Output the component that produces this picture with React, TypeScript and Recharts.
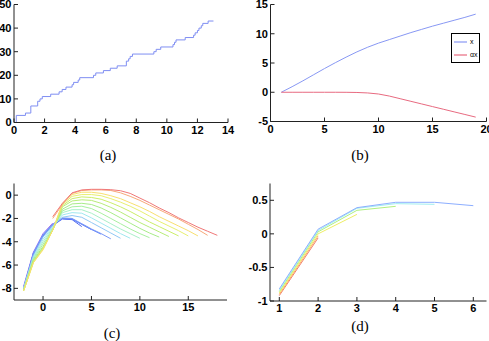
import React from "react"
import { Legend, Line, LineChart, XAxis, YAxis } from "recharts"

// (a) counting process: jump times and counts
const aTimes = [0, 0.15, 0.75, 1.1, 1.55, 1.7, 1.85, 2.4, 2.95, 3.15, 3.4, 3.8, 3.9, 4.2, 4.3, 5.2, 5.35, 5.85, 6.3, 6.75, 7.35, 7.5, 7.6, 7.75, 9.15, 9.3, 9.6, 10.4, 10.5, 10.6, 11.2, 11.75, 11.85, 12.0, 12.1, 12.25, 12.35, 12.7, 13.05]
const aCounts = [0, 3, 4, 7, 9, 10, 11, 12, 13, 14, 15, 16, 17, 18, 19, 20, 21, 22, 23, 24, 26, 27, 28, 29, 30, 31, 32, 33, 34, 35, 36, 37, 38, 39, 40, 41, 42, 43, 43]
const aXTicks = [0, 2, 4, 6, 8, 10, 12, 14]
const aYTicks = [0, 10, 20, 30, 40, 50]

// (b) two series over iterations
const bX = [1, 2, 3, 4, 5, 6, 7, 8, 9, 10, 11, 12, 13, 14, 15, 16, 17, 18, 19]
const bXSeries = [0, 0.95, 1.95, 3.0, 4.05, 5.05, 6.0, 6.9, 7.7, 8.4, 9.0, 9.6, 10.2, 10.75, 11.3, 11.8, 12.3, 12.8, 13.35]
const bAlpha = [0, 0, 0, 0, 0, 0, -0.01, -0.04, -0.12, -0.3, -0.65, -1.1, -1.55, -2.0, -2.45, -2.9, -3.35, -3.8, -4.25]
const bXTicks = [0, 5, 10, 15, 20]
const bYTicks = [-5, 0, 5, 10, 15]

// (c) family of curves, each starts at `from` on an integer grid
const cX = [-2, -1, 0, 1, 2, 3, 4, 5, 6, 7, 8, 9, 10, 11, 12, 13, 14, 15, 16, 17, 18]
const cCurves = [
    { name: "c1", from: -2, y: [-7.8, -4.9, -3.3, -2.4] },
    { name: "c4", from: -2, y: [-8.1, -5.1, -3.5, -2.6, -2.05, -2.1, -2.7] },
    { name: "c5", from: -2, y: [-8.0, -5.0, -3.45, -2.55, -2.0, -2.05, -2.5, -2.95] },
    { name: "c6", from: -2, y: [-8.0, -5.0, -3.4, -2.5, -2.0, -2.05, -2.5, -2.95, -3.35] },
    { name: "c7", from: -2, y: [-7.9, -5.0, -3.4, -2.5, -1.95, -2.0, -2.45, -2.9, -3.3, -3.75] },
    { name: "c8", from: -2, y: [-8.0, -5.2, -3.6, -2.6, -1.9, -1.75, -1.9, -2.35, -2.8, -3.25, -3.7] },
    { name: "c9", from: -2, y: [-8.0, -5.3, -3.8, -2.7, -1.7, -1.5, -1.55, -1.95, -2.4, -2.85, -3.3, -3.7] },
    { name: "c10", from: -2, y: [-8.1, -5.4, -4.0, -2.8, -1.5, -1.25, -1.25, -1.55, -2.0, -2.45, -2.9, -3.3, -3.7] },
    { name: "c11", from: -2, y: [-8.1, -5.5, -4.2, -2.9, -1.35, -1.0, -0.95, -1.15, -1.55, -2.0, -2.45, -2.9, -3.3, -3.65] },
    { name: "c12", from: -2, y: [-8.1, -5.6, -4.4, -3.0, -1.2, -0.75, -0.7, -0.8, -1.1, -1.5, -1.95, -2.4, -2.85, -3.25, -3.6] },
    { name: "c13", from: -2, y: [-8.2, -5.7, -4.5, -3.0, -1.0, -0.5, -0.4, -0.45, -0.7, -1.05, -1.45, -1.9, -2.35, -2.75, -3.15, -3.55] },
    { name: "c14", from: -2, y: [-8.2, -5.7, -4.6, -3.0, -0.9, -0.3, -0.15, -0.2, -0.35, -0.65, -1.0, -1.4, -1.85, -2.3, -2.7, -3.1, -3.5] },
    { name: "c15", from: -2, y: [-8.2, -5.8, -4.6, -3.0, -0.8, -0.1, 0.05, 0.05, -0.05, -0.3, -0.6, -0.95, -1.35, -1.8, -2.25, -2.65, -3.05, -3.5] },
    { name: "c16", from: -2, y: [-8.2, -5.8, -4.7, -3.0, -0.7, 0.05, 0.25, 0.25, 0.15, -0.05, -0.3, -0.65, -1.0, -1.4, -1.85, -2.25, -2.65, -3.05, -3.5] },
    { name: "c17", from: 1, y: [-2.0, -0.8, 0.15, 0.4, 0.45, 0.45, 0.4, 0.2, -0.1, -0.45, -0.85, -1.25, -1.65, -2.05, -2.5, -2.95, -3.45] },
    { name: "c18", from: 1, y: [-1.85, -0.7, 0.2, 0.45, 0.5, 0.5, 0.47, 0.38, 0.15, -0.25, -0.65, -1.1, -1.5, -1.95, -2.35, -2.75, -3.1, -3.45] },
]
const cColors = ["#a070f0", "#5068f0", "#5a78f5", "#6a88f8", "#7898f8", "#90c8f5", "#a0e8f0", "#a8f0c8", "#a8f0a0", "#a8ec88", "#b8ec78", "#ccee68", "#e8f070", "#f8e070", "#f8a878", "#f07878"]
const cXTicks = [0, 5, 10, 15]
const cYTicks = [-8, -6, -4, -2, 0]

// (d) nested runs, x = 1..6
const dX = [1, 2, 3, 4, 5, 6]
const dRed = [-0.92, -0.06]
const dOrange = [-0.9, -0.03]
const dYellow = [-0.88, 0.0, 0.29]
const dGreen = [-0.86, 0.03, 0.35, 0.41]
const dCyan = [-0.84, 0.05, 0.38, 0.45, 0.44]
const dBlue = [-0.82, 0.07, 0.39, 0.47, 0.47, 0.42]
const dXTicks = [1, 2, 3, 4, 5, 6]
const dYTicks = [-1, -0.5, 0, 0.5]

const aData = aTimes.map((x, i) => ({ x, n: aCounts[i] }))
const bData = bX.map((x, i) => ({ x, x1: bXSeries[i], a: bAlpha[i] }))
const cData = cX.map((x) => {
    const row: Record<string, number | null> = { x }
    cCurves.forEach((c) => {
        const k = x - c.from
        row[c.name] = k >= 0 && k < c.y.length ? c.y[k] : null
    })
    return row
})
const dSeries = [
    { name: "red", y: dRed, color: "#f08070" },
    { name: "orange", y: dOrange, color: "#ffb060" },
    { name: "yellow", y: dYellow, color: "#eeee66" },
    { name: "green", y: dGreen, color: "#b0f080" },
    { name: "cyan", y: dCyan, color: "#a0eef0" },
    { name: "blue", y: dBlue, color: "#8caeff" },
]
const dData = dX.map((x, i) => {
    const row: Record<string, number | null> = { x }
    dSeries.forEach((s) => {
        row[s.name] = i < s.y.length ? s.y[i] : null
    })
    return row
})

const font = "'Liberation Sans', Arial, Helvetica, sans-serif"
const tickStyle = { fontSize: 11, fill: "#000", fontFamily: font, fontWeight: 700 }
const frame = "#222"

// MATLAB-like box: inward ticks on all four sides
function frameAxes(xDomain: number[], xTicks: number[], yDomain: number[], yTicks: number[], yWidth: number) {
    return [
        <XAxis key="xb" xAxisId="b" type="number" dataKey="x" domain={xDomain} ticks={xTicks} interval={0}
            allowDataOverflow height={20} tickSize={-4} tickMargin={7.5} stroke={frame} tick={tickStyle} />,
        <XAxis key="xt" xAxisId="t" orientation="top" type="number" dataKey="x" domain={xDomain} ticks={xTicks}
            interval={0} allowDataOverflow height={0} tickSize={-4} tick={false} stroke={frame} />,
        <YAxis key="yl" yAxisId="l" type="number" domain={yDomain} ticks={yTicks} interval={0}
            allowDataOverflow width={yWidth} tickSize={-4} tickMargin={6.5} stroke={frame} tick={tickStyle} />,
        <YAxis key="yr" yAxisId="r" orientation="right" type="number" domain={yDomain} ticks={yTicks}
            interval={0} allowDataOverflow width={0} tickSize={-4} tick={false} stroke={frame} />,
    ]
}

function Caption({ text, x, y }: { text: string; x: number; y: number }) {
    return (
        <div
            style={{
                position: "absolute",
                left: x,
                top: y,
                transform: "translate(-50%, -50%)",
                fontFamily: "'Liberation Serif', 'Times New Roman', serif",
                fontSize: 15,
                color: "#000",
                whiteSpace: "nowrap",
            }}
        >
            {text}
        </div>
    )
}

function BLegend({ payload }: any) {
    return (
        <div
            style={{
                width: 29,
                height: 30,
                boxSizing: "border-box",
                border: "1.5px solid #000",
                background: "#fff",
                fontFamily: font,
                fontSize: 7,
                lineHeight: "14px",
                paddingTop: 1,
            }}
        >
            {(payload || []).map((p: any) => (
                <div key={p.value} style={{ display: "flex", alignItems: "center", height: 13 }}>
                    <svg width={18} height={4}>
                        <line x1={2} x2={15} y1={2} y2={2} stroke={p.color} strokeWidth={1.2} />
                    </svg>
                    <span>{p.value}</span>
                </div>
            ))}
        </div>
    )
}

export default function App() {
    return (
        <div style={{ position: "absolute", left: 0, top: 0, width: 489, height: 341, background: "#fff", overflow: "hidden" }}>
            <div style={{ position: "absolute", left: 0, top: 0 }}>
                <LineChart width={240} height={170} data={aData} margin={{ top: 4.5, right: 12, bottom: 27.5, left: 0 }}>
                    {frameAxes([0, 14], aXTicks, [0, 50], aYTicks, 14)}
                    <Line xAxisId="b" yAxisId="l" type="stepAfter" dataKey="n" stroke="#7f8ef2" strokeWidth={1}
                        dot={false} isAnimationActive={false} />
                </LineChart>
            </div>
            <div style={{ position: "absolute", left: 240, top: 0 }}>
                <LineChart width={249} height={170} data={bData} margin={{ top: 4.5, right: 2.5, bottom: 28.5, left: 0.5 }}>
                    {frameAxes([0, 20], bXTicks, [-5, 15], bYTicks, 30)}
                    <Line xAxisId="b" yAxisId="l" name="x" dataKey="x1" stroke="#8898f4" strokeWidth={1}
                        dot={false} isAnimationActive={false} />
                    <Line xAxisId="b" yAxisId="l" name="αx" dataKey="a" stroke="#e86a80" strokeWidth={1}
                        dot={false} isAnimationActive={false} />
                    <Legend layout="vertical" align="center" verticalAlign="middle" content={<BLegend />}
                        wrapperStyle={{ left: 211, top: 33, width: 29, height: 30 }} />
                </LineChart>
            </div>
            <div style={{ position: "absolute", left: 0, top: 170 }}>
                <LineChart width={240} height={171} data={cData} margin={{ top: 13.5, right: 13, bottom: 21, left: 0 }}>
                    {frameAxes([-3, 19], cXTicks, [-9, 1], cYTicks, 14)}
                    {cCurves.map((c, i) => (
                        <Line key={c.name} xAxisId="b" yAxisId="l" dataKey={c.name} stroke={cColors[i]} strokeWidth={1}
                            dot={false} isAnimationActive={false} />
                    ))}
                </LineChart>
            </div>
            <div style={{ position: "absolute", left: 240, top: 170 }}>
                <LineChart width={249} height={171} data={dData} margin={{ top: 13.5, right: 2.5, bottom: 20, left: 0 }}>
                    {frameAxes([0.76, 6.34], dXTicks, [-1, 0.75], dYTicks, 30)}
                    {dSeries.map((s) => (
                        <Line key={s.name} xAxisId="b" yAxisId="l" dataKey={s.name} stroke={s.color} strokeWidth={1}
                            dot={false} isAnimationActive={false} />
                    ))}
                </LineChart>
            </div>
            <Caption text="(a)" x={108} y={155} />
            <Caption text="(b)" x={360} y={155} />
            <Caption text="(c)" x={112} y={333} />
            <Caption text="(d)" x={360} y={326} />
        </div>
    )
}
